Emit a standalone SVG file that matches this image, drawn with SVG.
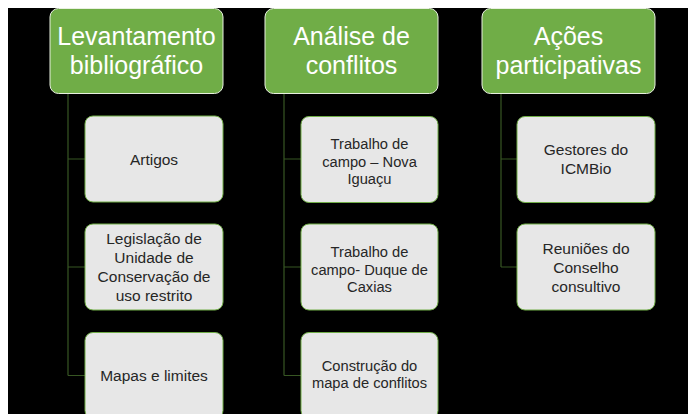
<svg xmlns="http://www.w3.org/2000/svg" width="688" height="414" viewBox="0 0 688 414">
<style>
.hdr{fill:#70AD47;stroke:#E8F0E0;stroke-width:1}
.box{fill:#E7E7E7;stroke:#70AD47;stroke-width:1}
.ht{font-family:"Liberation Sans",Arial,sans-serif;font-size:25px;fill:#FFFFFF;text-anchor:middle}
.bt{font-family:"Liberation Sans",Arial,sans-serif;font-size:15.5px;fill:#262626;text-anchor:middle}
.bt2{font-family:"Liberation Sans",Arial,sans-serif;font-size:14.7px;fill:#262626;text-anchor:middle}
.con{fill:none;stroke:#375623;stroke-width:1.2}
</style>
<rect x="0" y="0" width="688" height="414" fill="#FFFFFF"/>
<rect x="8" y="8" width="680" height="406" fill="#000000"/>
<g id="connectors">
<path class="con" d="M68,93 V375.5 M68,159 H85 M68,267 H85 M68,375.5 H85"/>
<path class="con" d="M284,93 V375.5 M284,159 H301 M284,267 H301 M284,375.5 H301"/>
<path class="con" d="M501,93 V267 M501,159 H517 M501,267 H517"/>
</g>
<g id="h1"><rect class="hdr" x="50" y="8.5" width="173" height="85" rx="8.5"/>
<text class="ht" x="136.5" y="45">Levantamento</text><text class="ht" x="136.5" y="74">bibliográfico</text></g>
<g id="h2"><rect class="hdr" x="265" y="8.5" width="173" height="85" rx="8.5"/>
<text class="ht" x="351.5" y="45">Análise de</text><text class="ht" x="351.5" y="74">conflitos</text></g>
<g id="h3"><rect class="hdr" x="482" y="8.5" width="173" height="85" rx="8.5"/>
<text class="ht" x="568.5" y="45">Ações</text><text class="ht" x="568.5" y="74">participativas</text></g>
<g id="c1a"><rect class="box" x="85" y="116" width="138" height="86" rx="8"/>
<text class="bt" x="154" y="164.5">Artigos</text></g>
<g id="c1b"><rect class="box" x="85" y="224" width="138" height="86" rx="8"/>
<text class="bt" x="154" y="243.5">Legislação de</text><text class="bt" x="154" y="262.5">Unidade de</text><text class="bt" x="154" y="281.5">Conservação de</text><text class="bt" x="154" y="300.5">uso restrito</text></g>
<g id="c1c"><rect class="box" x="85" y="332.5" width="138" height="86" rx="8"/>
<text class="bt" x="154" y="380.5">Mapas e limites</text></g>
<g id="c2a"><rect class="box" x="301" y="116.5" width="137" height="86" rx="8"/>
<text class="bt2" x="369.5" y="149">Trabalho de</text><text class="bt2" x="369.5" y="166.5">campo – Nova</text><text class="bt2" x="369.5" y="184">Iguaçu</text></g>
<g id="c2b"><rect class="box" x="301" y="224" width="137" height="86" rx="8"/>
<text class="bt2" x="369.5" y="257">Trabalho de</text><text class="bt2" x="369.5" y="274.5">campo- Duque de</text><text class="bt2" x="369.5" y="292">Caxias</text></g>
<g id="c2c"><rect class="box" x="301" y="332.5" width="137" height="86" rx="8"/>
<text class="bt2" x="369.5" y="371">Construção do</text><text class="bt2" x="369.5" y="388">mapa de conflitos</text></g>
<g id="c3a"><rect class="box" x="517" y="116.5" width="138" height="86" rx="8"/>
<text class="bt" x="586" y="155">Gestores do</text><text class="bt" x="586" y="174">ICMBio</text></g>
<g id="c3b"><rect class="box" x="517" y="224" width="138" height="86" rx="8"/>
<text class="bt" x="586" y="253.5">Reuniões do</text><text class="bt" x="586" y="272.5">Conselho</text><text class="bt" x="586" y="291.5">consultivo</text></g>
</svg>
